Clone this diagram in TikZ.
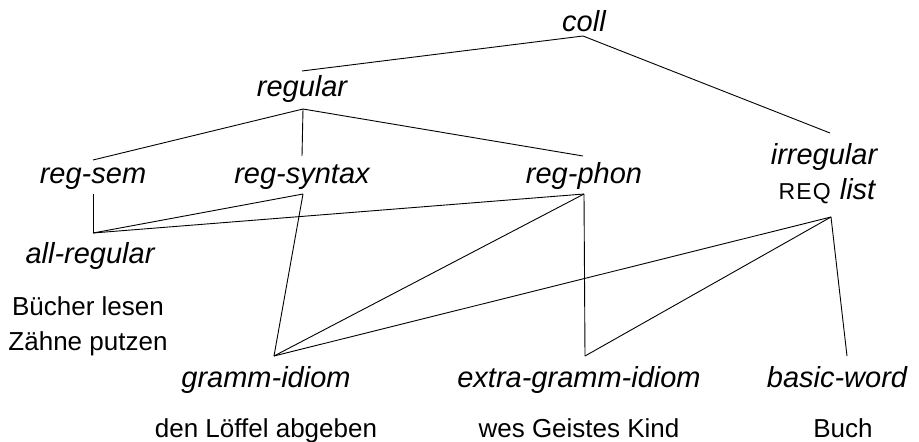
\documentclass[tikz,border=0pt]{standalone}
\usepackage{fontspec}
\setmainfont{Liberation Sans}
\begin{document}
\begin{tikzpicture}[x=1pt,y=-1pt,
  lab/.style={font=\fontsize{29}{34}\selectfont\itshape, anchor=base, inner sep=0pt},
  ex/.style={font=\fontsize{26}{31}\selectfont, anchor=base, inner sep=0pt},
  edge/.style={draw=black, line width=0.9pt}]
\useasboundingbox (0,0) rectangle (919,442);
% labels
\node[lab] (coll) at (584,31) {coll};
\node[lab] (regular) at (302,96) {regular};
\node[lab] (regsem) at (93,183) {reg-sem};
\node[lab] (regsyn) at (302,183) {reg-syntax};
\node[lab] (regphon) at (584,183) {reg-phon};
\node[lab] (irreg) at (824,164) {irregular};
\node[anchor=base, inner sep=0pt, font=\fontsize{29}{34}\selectfont] (req) at (827,199) {{\fontsize{23}{26}\selectfont\addfontfeature{LetterSpace=5}REQ}\hspace{9pt}{\itshape list}};
\node[lab] (allreg) at (90,263) {all-regular};
\node[ex] (ex1) at (88,315) {Bücher lesen};
\node[ex] (ex2) at (88,350) {Zähne putzen};
\node[lab] (gramm) at (266,387) {gramm-idiom};
\node[lab] (extra) at (579,387) {extra-gramm-idiom};
\node[lab] (basic) at (837,387) {basic-word};
\node[ex] (ex3) at (266,437) {den Löffel abgeben};
\node[ex] (ex4) at (579,437) {wes Geistes Kind};
\node[ex] (ex5) at (843,437) {Buch};
% connection points
\coordinate (coll-b) at (583,36);
\coordinate (regular-t) at (302,71);
\coordinate (regular-b) at (303,109);
\coordinate (irreg-t) at (830,133);
\coordinate (regsem-t) at (93,160);
\coordinate (regsyn-t) at (302,156);
\coordinate (regphon-t) at (583,156);
\coordinate (regsem-b) at (93,194);
\coordinate (regsyn-b) at (303,194);
\coordinate (regphon-b) at (584,194);
\coordinate (allreg-t) at (93,233);
\coordinate (req-b) at (831,217);
\coordinate (gramm-t) at (274,356);
\coordinate (extra-t) at (585,356);
\coordinate (basic-t) at (847,356);
% connectors
\draw[edge] (regular-t) -- (coll-b) -- (irreg-t);
\draw[edge] (regsem-t) -- (regular-b) -- (regphon-t);
\draw[edge] (regular-b) -- (regsyn-t);
\draw[edge] (regsem-b) -- (allreg-t);
\draw[edge] (regsyn-b) -- (allreg-t);
\draw[edge] (regphon-b) -- (allreg-t);
\draw[edge] (regsyn-b) -- (gramm-t);
\draw[edge] (regphon-b) -- (gramm-t);
\draw[edge] (regphon-b) -- (extra-t);
\draw[edge] (req-b) -- (gramm-t);
\draw[edge] (req-b) -- (extra-t);
\draw[edge] (req-b) -- (basic-t);
\end{tikzpicture}
\end{document}
